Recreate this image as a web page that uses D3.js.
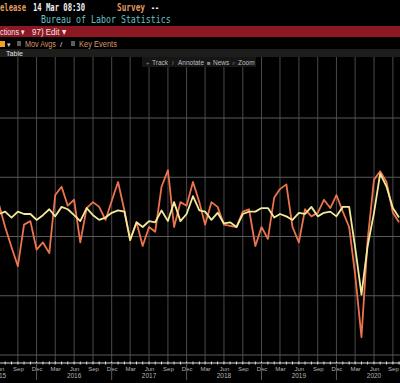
<!DOCTYPE html>
<html>
<head>
<meta charset="utf-8">
<script src="https://cdn.jsdelivr.net/npm/d3@7"></script>
<style>
  html, body { margin: 0; padding: 0; background: #000; }
  svg { display: block; }
</style>
</head>
<body>
<svg id="chart" width="400" height="383"></svg>
<script>
// ===== DATA =====
// months from May 2015 to Oct 2020, one value per month
const firstMonth = new Date(2015, 4, 1);
const lastMonth = new Date(2020, 9, 1);

// orange series (headline, % m/m)
const headline = [
  0.35, 0.27, 0.08, -0.09, -0.25, 0.10, 0.13, -0.11, -0.05, -0.14,
  0.35, 0.42, 0.26, 0.31, -0.05, 0.24, 0.29, 0.25, 0.14, 0.30,
  0.46, 0.22, -0.03, 0.12, -0.08, 0.08, 0.04, 0.42, 0.56, 0.08,
  0.29, 0.26, 0.46, 0.29, 0.10, 0.29, 0.25, 0.10, 0.09, 0.08,
  0.21, 0.23, -0.08, 0.08, -0.02, 0.33, 0.40, 0.44, 0.08, -0.05,
  0.23, 0.17, 0.20, 0.31, 0.24, 0.35, 0.21, 0.08, -0.32, -0.85,
  -0.03, 0.48, 0.55, 0.46, 0.20, 0.12
];

// yellow series (core, % m/m)
const core = [
  0.21, 0.19, 0.21, 0.16, 0.21, 0.19, 0.19, 0.14, 0.18, 0.23,
  0.17, 0.25, 0.23, 0.18, 0.13, 0.24, 0.18, 0.14, 0.16, 0.20,
  0.22, 0.21, -0.03, 0.12, 0.08, 0.13, 0.12, 0.22, 0.13, 0.29,
  0.13, 0.19, 0.34, 0.22, 0.21, 0.14, 0.20, 0.11, 0.12, 0.08,
  0.19, 0.21, 0.21, 0.24, 0.24, 0.16, 0.19, 0.17, 0.14, 0.20,
  0.19, 0.25, 0.17, 0.20, 0.21, 0.17, 0.25, 0.25, -0.09, -0.49,
  -0.08, 0.20, 0.53, 0.42, 0.24, 0.16
];

const gridValues = [-1, -0.5, 0, 0.5, 1];
const yearLabels = [2015, 2016, 2017, 2018, 2019, 2020];
const toolbarItems = ['Track', 'Annotate', 'News', 'Zoom'];

// ===== SETUP =====
const W = 400, H = 383;
const plotTop = 57, axisY = 363;
const svg = d3.select('#chart');

const months = d3.timeMonth.range(firstMonth, d3.timeMonth.offset(lastMonth, 1));
const headlineData = months.map((d, i) => ({ date: d, v: headline[i] }));
const coreData = months.map((d, i) => ({ date: d, v: core[i] }));

const x = d3.scaleTime()
  .domain([new Date(2015, 5, 1), new Date(2020, 5, 1)])
  .range([-1, 374]);
const y = d3.scaleLinear().domain([-1, 1]).range([355, 118]);

const quarterTicks = d3.timeMonth
  .range(new Date(2015, 2, 1), new Date(2021, 0, 1))
  .filter(d => d.getMonth() % 3 === 2);

// ===== HEADER =====
const mono = '"DejaVu Sans Mono", monospace';
const sans = '"Liberation Sans", Arial, sans-serif';

// text squeezed horizontally to a target width (Bloomberg font is narrow)
function txt(s, px, py, fill, opts = {}) {
  const t = svg.append('text')
    .attr('x', 0).attr('y', 0)
    .attr('fill', fill)
    .style('font-family', opts.family || mono)
    .style('font-size', (opts.size || 10) + 'px')
    .text(s);
  if (opts.weight) t.style('font-weight', opts.weight);
  let sx = 1;
  if (opts.len) {
    const natural = t.node().getComputedTextLength();
    if (natural > 0) sx = opts.len / natural;
  }
  t.attr('transform', `translate(${px},${py}) scale(${sx},1)`);
  return t;
}

txt('elease', 0, 11, '#e39a5c', { len: 26, size: 10.5, weight: 'bold' });
txt('14 Mar 08:30', 33, 11, '#f2f2f2', { len: 52, size: 10.5, weight: 'bold' });
txt('Survey', 117, 11, '#e39a5c', { len: 28, size: 10.5, weight: 'bold' });
txt('--', 151, 11, '#f2f2f2', { len: 8, size: 10.5, weight: 'bold' });
txt('Bureau of Labor Statistics', 41, 23, '#62c6c4', { len: 130, size: 10.5 });

// red function bar
svg.append('rect').attr('x', 0).attr('y', 26).attr('width', W).attr('height', 11).attr('fill', '#8c1824');
txt('ctions \u25BE', 0, 35, '#f4e4e4', { family: sans, size: 9.5, len: 25 });
txt('97) Edit \u25BE', 32, 35, '#f4e4e4', { family: sans, size: 9.5, len: 34 });

// options row
svg.append('rect').attr('x', 0).attr('y', 41).attr('width', 5).attr('height', 6).attr('fill', '#f2a31f');
txt('\u25BE', 7, 47, '#cfcfcf', { family: sans, size: 7 });
svg.append('rect').attr('x', 17).attr('y', 41).attr('width', 4).attr('height', 5).attr('fill', '#5c5c5c');
txt('Mov Avgs', 25, 47, '#d9986a', { family: sans, size: 9, len: 31 });
txt('/', 60, 47, '#d9d9d9', { family: sans, size: 8 });
svg.append('rect').attr('x', 71).attr('y', 41).attr('width', 4).attr('height', 5).attr('fill', '#5c5c5c');
txt('Key Events', 79, 47, '#d9986a', { family: sans, size: 9, len: 38 });

// tab band
svg.append('rect').attr('x', 0).attr('y', 49).attr('width', W).attr('height', 8).attr('fill', '#1d1d1b');
txt('Table', 6, 56, '#e0e0e0', { family: sans, size: 7, len: 17 });

// ===== GRID =====
const grid = svg.append('g');
grid.selectAll('line.v')
  .data(quarterTicks)
  .join('line')
  .attr('class', 'v')
  .attr('x1', d => x(d)).attr('x2', d => x(d))
  .attr('y1', plotTop).attr('y2', axisY)
  .attr('stroke', '#4a4a4a')
  .attr('stroke-width', 1);

grid.selectAll('line.h')
  .data(gridValues)
  .join('line')
  .attr('class', 'h')
  .attr('x1', 0).attr('x2', W)
  .attr('y1', d => y(d)).attr('y2', d => y(d))
  .attr('stroke', '#5a5a5a')
  .attr('stroke-width', 1);

// chart toolbar
svg.append('rect').attr('x', 142).attr('y', 57).attr('width', 114).attr('height', 10).attr('fill', '#161616');
const tbX = [152, 178, 213, 238];
const tbIcon = ['+', '/', '\u25A0', '\u2315'];
toolbarItems.forEach((s, i) => {
  txt(tbIcon[i], tbX[i] - 6, 65, '#8a8a8a', { family: sans, size: 6 });
  txt(s, tbX[i], 65, '#bdbdbd', { family: sans, size: 6.5 });
});

// ===== SERIES =====
svg.append('clipPath').attr('id', 'plotClip')
  .append('rect').attr('x', 0).attr('y', plotTop).attr('width', W).attr('height', axisY - plotTop);

const line = d3.line()
  .x(d => x(d.date))
  .y(d => y(d.v));

const series = svg.append('g').attr('clip-path', 'url(#plotClip)');
series.append('path')
  .datum(headlineData)
  .attr('d', line)
  .attr('fill', 'none')
  .attr('stroke', '#ec744c')
  .attr('stroke-width', 1.8)
  .attr('stroke-linejoin', 'round');

series.append('path')
  .datum(coreData)
  .attr('d', line)
  .attr('fill', 'none')
  .attr('stroke', '#f3e99a')
  .attr('stroke-width', 1.8)
  .attr('stroke-linejoin', 'round');

// ===== X AXIS =====
const axis = svg.append('g')
  .attr('transform', `translate(0,${axisY})`)
  .call(d3.axisBottom(x)
    .tickValues(quarterTicks)
    .tickFormat(d3.timeFormat('%b'))
    .tickSize(0)
    .tickPadding(4));

axis.select('.domain').remove();
axis.selectAll('text')
  .attr('fill', '#b5b5b5')
  .style('font-family', sans)
  .style('font-size', '6px');

svg.append('line')
  .attr('x1', 0).attr('x2', W)
  .attr('y1', axisY).attr('y2', axisY)
  .attr('stroke', '#d8d8d8')
  .attr('stroke-width', 1);

// monthly minor ticks
svg.selectAll('line.minor')
  .data(d3.timeMonth.range(new Date(2015, 3, 1), new Date(2020, 11, 1)))
  .join('line')
  .attr('class', 'minor')
  .attr('x1', d => x(d)).attr('x2', d => x(d))
  .attr('y1', axisY - 1.5).attr('y2', axisY + 1.5)
  .attr('stroke', '#e0e0e0')
  .attr('stroke-width', 1);

// year separators at December
svg.selectAll('line.sep')
  .data(quarterTicks.filter(d => d.getMonth() === 11))
  .join('line')
  .attr('class', 'sep')
  .attr('x1', d => x(d)).attr('x2', d => x(d))
  .attr('y1', axisY).attr('y2', axisY + 17)
  .attr('stroke', '#5a5a5a');

svg.selectAll('text.year')
  .data(yearLabels)
  .join('text')
  .attr('class', 'year')
  .attr('x', d => x(new Date(d, 5, 1)))
  .attr('y', axisY + 15)
  .attr('text-anchor', 'middle')
  .attr('fill', '#b5b5b5')
  .style('font-family', sans)
  .style('font-size', '6.5px')
  .text(d => d);
</script>
</body>
</html>
